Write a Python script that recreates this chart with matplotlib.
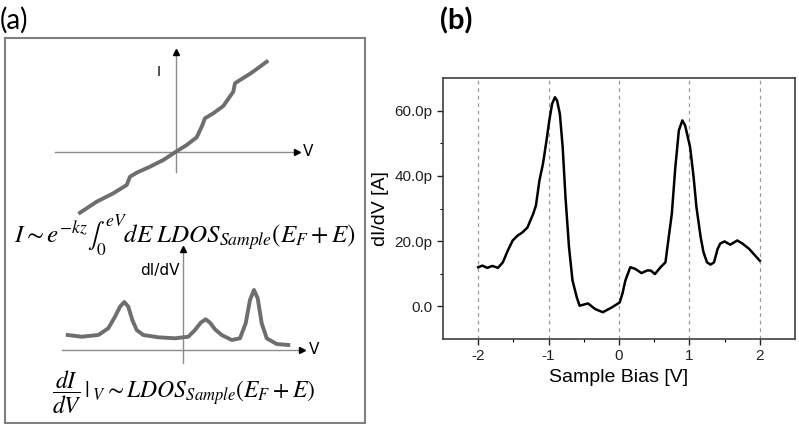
import matplotlib
matplotlib.use("Agg")
import matplotlib.pyplot as plt

plt.rcParams['font.family'] = ['Liberation Sans', 'DejaVu Sans']
plt.rcParams['mathtext.fontset'] = 'stix'

# ---------------- data: panel (b) measured dI/dV spectrum ----------------
bias = [-2.00, -1.94, -1.87, -1.80, -1.72, -1.65, -1.58, -1.51, -1.44, -1.37,
        -1.30, -1.22, -1.18, -1.13, -1.08, -1.03, -0.99, -0.95, -0.91, -0.88,
        -0.84, -0.80, -0.76, -0.71, -0.66, -0.60, -0.56, -0.44, -0.34, -0.23,
        -0.10, 0.01, 0.05, 0.09, 0.16, 0.23, 0.32, 0.40, 0.45, 0.51, 0.59,
        0.66, 0.70, 0.75, 0.80, 0.85, 0.90, 0.94, 1.01, 1.06, 1.10, 1.16,
        1.20, 1.25, 1.30, 1.35, 1.40, 1.44, 1.50, 1.58, 1.68, 1.75, 1.85,
        1.92, 2.00]
didv = [12.0, 12.5, 11.8, 12.4, 11.8, 13.5, 17.1, 20.2, 21.7, 22.7,
        24.2, 28.3, 30.9, 38.6, 43.7, 50.8, 57.0, 62.1, 64.1, 63.1,
        59.0, 48.8, 33.4, 18.1, 7.9, 2.8, 0.2, 0.9, -0.8, -1.8,
        -0.3, 1.2, 4.0, 7.9, 12.0, 11.5, 10.2, 11.0, 11.0, 9.9, 12.0,
        13.5, 20.2, 28.3, 42.6, 53.9, 57.0, 55.4, 48.8, 39.6, 30.4, 21.2,
        16.6, 13.5, 12.8, 13.5, 17.6, 19.3, 19.9, 18.9, 20.2, 19.3, 17.6,
        15.9, 14.0]
x_ticks = [-2, -1, 0, 1, 2]
x_minor = [-1.5, -0.5, 0.5, 1.5]
y_ticks = [0, 20, 40, 60]
y_minor = [10, 30, 50]
y_tick_labels = ["0.0", "20.0p", "40.0p", "60.0p"]

# ---------------- data: panel (a) schematic sketches ----------------
iv_v = [-96, -79.3, -62.7, -49.3, -46, -39.3, -26, -12.7, 0, 10.7, 20.7,
        25.7, 29, 37.3, 47.3, 57.3, 59, 64, 75.7, 90.7]
iv_i = [-60.7, -49.7, -41.3, -33, -24.7, -20.7, -14.7, -8, 0.3, 7, 14.7,
        25.3, 33.7, 38.7, 46, 60.3, 68.7, 72, 79.3, 90.3]
sk_v = [-115.3, -101.3, -84.7, -74.7, -68, -63, -58.7, -54.7, -50.7, -46.3,
        -39.7, -24.7, -8, 5.3, 12, 17.7, 22.7, 27, 32, 38.7, 48.7, 57,
        62.7, 67, 71, 74.7, 78.7, 83.7, 93.7, 105.3]
sk_g = [15, 13.3, 15, 21.7, 33.3, 43.3, 48, 43.3, 30, 20,
        15, 12.7, 11.7, 13.3, 20, 27.3, 30.7, 27.3, 20.7, 15, 10, 11.7,
        26.7, 50, 60, 51.7, 26.7, 11.7, 6, 5]

W, H = 799, 424
fig = plt.figure(figsize=(W / 100, H / 100), dpi=100)


def pos(x0, y0, x1, y1):
    """figure-pixel box (y down) -> axes rect"""
    return [x0 / W, 1 - y1 / H, (x1 - x0) / W, (y1 - y0) / H]


# ---------------- panel (a) ----------------
ax_a = fig.add_axes(pos(5, 38, 365, 423))
ax_a.set_xticks([]); ax_a.set_yticks([])
for s in ax_a.spines.values():
    s.set_color('#808080'); s.set_linewidth(1.5)

ax_a.text(0.5, 0.487, r"$I \sim e^{-kz}\int_0^{eV} dE\; LDOS_{Sample}(E_F + E)$",
          transform=ax_a.transAxes, ha='center', va='center', fontsize=18)
ax_a.text(0.496, 0.08, r"$\dfrac{dI}{dV}\,|_{\;V} \sim LDOS_{Sample}(E_F + E)$",
          transform=ax_a.transAxes, ha='center', va='center', fontsize=17)

grey = '#6e6e6e'
axis_grey = '#8c8c8c'

# upper sketch: origin at fig px (176,152)
ox, oy = 176, 152
ax_iv = fig.add_axes(pos(40, 40, 330, 225))
ax_iv.set_xlim(40 - ox, 330 - ox)
ax_iv.set_ylim(oy - 225, oy - 40)
ax_iv.axis('off')
ax_iv.plot([55 - ox, 297 - ox], [0, 0], color=axis_grey, lw=1)
ax_iv.plot([0, 0], [oy - 172, oy - 52], color=axis_grey, lw=1)
ax_iv.plot([297 - ox], [0], marker='>', color='black', ms=4)
ax_iv.plot([0], [oy - 52], marker='^', color='black', ms=4)
ax_iv.text(303 - ox, 0, "V", ha='left', va='center', fontsize=11, family='DejaVu Sans')
ax_iv.text(159 - ox, oy - 72, "I", ha='center', va='center', fontsize=10, family='DejaVu Sans')
ax_iv.plot(iv_v, iv_i, color=grey, lw=2.8, solid_joinstyle='round')

# lower sketch: origin at fig px (183,350)
ox2, oy2 = 183, 350
ax_sk = fig.add_axes(pos(40, 240, 335, 372))
ax_sk.set_xlim(40 - ox2, 335 - ox2)
ax_sk.set_ylim(oy2 - 372, oy2 - 240)
ax_sk.axis('off')
ax_sk.plot([62 - ox2, 302 - ox2], [0, 0], color=axis_grey, lw=1)
ax_sk.plot([0, 0], [oy2 - 363, oy2 - 249], color=axis_grey, lw=1)
ax_sk.plot([302 - ox2], [0], marker='>', color='black', ms=4)
ax_sk.plot([0], [oy2 - 249], marker='^', color='black', ms=4)
ax_sk.text(309 - ox2, 0, "V", ha='left', va='center', fontsize=11, family='DejaVu Sans')
ax_sk.text(160 - ox2, oy2 - 270, "dI/dV", ha='center', va='center', fontsize=11, family='DejaVu Sans')
ax_sk.plot(sk_v, sk_g, color=grey, lw=2.8, solid_joinstyle='round')

fig.text(0 / W, 1 - 20 / H, "(a)", ha='left', va='center', fontsize=20, family='Lato')

# ---------------- panel (b) ----------------
ax_b = fig.add_axes(pos(443, 78, 795, 339))
ax_b.plot(bias, didv, color='black', lw=1.8, solid_joinstyle='round')
ax_b.set_xlim(-2.5, 2.5)
ax_b.set_ylim(-10, 70)
ax_b.set_xticks(x_ticks)
ax_b.set_xticklabels([str(t) for t in x_ticks])
ax_b.set_xticks(x_minor, minor=True)
ax_b.set_yticks(y_ticks)
ax_b.set_yticklabels(y_tick_labels)
ax_b.set_yticks(y_minor, minor=True)
ax_b.tick_params(axis='both', which='major', direction='out', length=4, width=1,
                 labelsize=11, colors='#222222')
ax_b.tick_params(axis='both', which='minor', direction='out', length=2.5, width=0.8)
for t in x_ticks:
    ax_b.axvline(t, color='#9a9a9a', lw=0.9, ls=(0, (3, 3)), zorder=0)
for s in ax_b.spines.values():
    s.set_color('#404040'); s.set_linewidth(1.2)
ax_b.set_xlabel("Sample Bias [V]", fontsize=14, labelpad=4)
ax_b.set_ylabel("dI/dV [A]", fontsize=14, labelpad=4)

fig.text(440 / W, 1 - 21 / H, "(b)", ha='left', va='center', fontsize=21,
         fontweight='bold', family='Lato')

fig.savefig("out.png", dpi=100)
